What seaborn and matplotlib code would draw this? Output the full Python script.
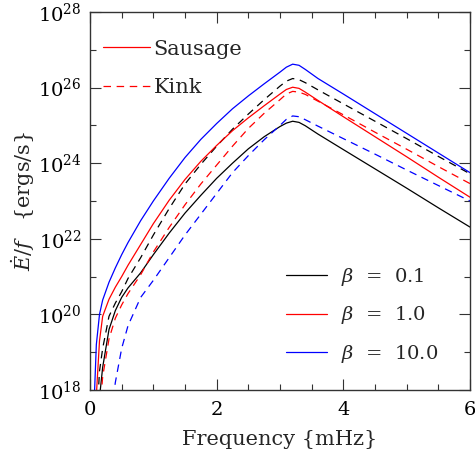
import numpy as np
import pandas as pd
import matplotlib
matplotlib.use("Agg")
import matplotlib.pyplot as plt
from matplotlib.lines import Line2D
from matplotlib.ticker import FixedLocator, NullFormatter
import seaborn as sns

# frequency grid (mHz) and log10 of E-dot/f (ergs/s)
freq = [0.05, 0.1, 0.15, 0.2, 0.3, 0.4, 0.5, 0.6, 0.8, 1.0, 1.25, 1.5, 1.75, 2.0,
        2.25, 2.5, 2.75, 3.0, 3.1, 3.2, 3.3, 3.4, 3.6, 4.0, 4.5, 5.0, 5.5, 6.0]

# sausage modes
saus_b01 = [13.0, 16.4, 17.8, 18.6, 19.6, 20.1, 20.45, 20.7, 21.1, 21.58, 22.15, 22.68, 23.15, 23.6,
            24.0, 24.38, 24.7, 24.97, 25.06, 25.11, 25.08, 24.99, 24.77, 24.36, 23.85, 23.34, 22.82, 22.31]
saus_b1 = [15.5, 17.85, 19.3, 19.95, 20.4, 20.72, 21.0, 21.3, 21.85, 22.4, 23.02, 23.57, 24.05, 24.47,
           24.86, 25.2, 25.52, 25.83, 25.95, 26.01, 25.98, 25.88, 25.66, 25.23, 24.7, 24.17, 23.63, 23.1]
saus_b10 = [17.0, 19.2, 20.0, 20.38, 20.85, 21.23, 21.58, 21.9, 22.48, 23.0, 23.6, 24.15, 24.63, 25.05,
            25.44, 25.78, 26.1, 26.41, 26.54, 26.62, 26.59, 26.48, 26.24, 25.83, 25.31, 24.79, 24.27, 23.75]

# kink modes
kink_b01 = [14.0, 17.0, 18.5, 19.1, 19.95, 20.3, 20.6, 20.95, 21.5, 22.1, 22.8, 23.45, 23.97, 24.45,
            24.9, 25.3, 25.68, 26.04, 26.17, 26.24, 26.21, 26.13, 25.94, 25.57, 25.11, 24.65, 24.18, 23.72]
kink_b1 = [12.0, 15.5, 17.3, 18.35, 19.35, 19.9, 20.25, 20.55, 21.05, 21.65, 22.3, 22.9, 23.45, 23.95,
           24.45, 24.92, 25.32, 25.68, 25.83, 25.9, 25.88, 25.82, 25.64, 25.28, 24.82, 24.37, 23.91, 23.46]
kink_b10 = [8.0, 11.0, 13.0, 14.5, 16.9, 18.2, 19.1, 19.7, 20.45, 20.9, 21.5, 22.1, 22.65, 23.2,
            23.75, 24.2, 24.62, 25.0, 25.16, 25.25, 25.23, 25.15, 24.98, 24.65, 24.24, 23.82, 23.41, 23.0]

betas = ["0.1", "1.0", "10.0"]
beta_colors = {"0.1": "black", "1.0": "#ff0000", "10.0": "#0000ff"}

curves = {
    ("0.1", "Sausage"): saus_b01, ("1.0", "Sausage"): saus_b1, ("10.0", "Sausage"): saus_b10,
    ("0.1", "Kink"): kink_b01, ("1.0", "Kink"): kink_b1, ("10.0", "Kink"): kink_b10,
}

rows = []
for (beta, mode), vals in curves.items():
    for f, v in zip(freq, vals):
        rows.append({"freq": f, "power": 10.0 ** v, "beta": beta, "mode": mode})
df = pd.DataFrame(rows)

sns.set_theme(style="ticks")
plt.rcParams["font.family"] = ["DejaVu Serif"]
plt.rcParams["mathtext.fontset"] = "dejavuserif"

fig = plt.figure(figsize=(4.75, 4.49), dpi=100)
ax = fig.add_axes([90 / 475, 1 - 390 / 449, 380 / 475, 378 / 449])

sns.lineplot(data=df, x="freq", y="power", hue="beta", style="mode",
             hue_order=betas, palette=beta_colors, style_order=["Sausage", "Kink"],
             dashes={"Sausage": "", "Kink": (6, 4.5)}, estimator=None, sort=False,
             legend=False, linewidth=0.9, ax=ax)

ax.set_yscale("log")
ax.set_xlim(0, 6)
ax.set_ylim(1e18, 1e28)
ax.set_xticks([0, 2, 4, 6])
ax.xaxis.set_minor_locator(FixedLocator(np.arange(0, 6.01, 0.5)))
ax.yaxis.set_major_locator(FixedLocator([1e18, 1e20, 1e22, 1e24, 1e26, 1e28]))
ax.yaxis.set_minor_locator(FixedLocator([1e19, 1e21, 1e23, 1e25, 1e27]))
ax.yaxis.set_minor_formatter(NullFormatter())

ax.tick_params(which="both", direction="in", top=True, right=True, width=0.8,
               colors="#333333", labelcolor="black", labelsize=14)
ax.tick_params(which="major", length=8, pad=6)
ax.tick_params(axis="x", which="major", pad=8)
ax.tick_params(which="minor", length=4)
for s in ax.spines.values():
    s.set_linewidth(1.0)
    s.set_color("#333333")

ax.set_xlabel("Frequency {mHz}", fontsize=15, labelpad=8)
ax.set_ylabel(r"$\dot{E}/f$   {ergs/s}", fontsize=15)
ax.yaxis.set_label_coords(-0.14, 0.5)

mode_handles = [Line2D([], [], color="#ff0000", lw=0.9),
                Line2D([], [], color="#ff0000", lw=0.9, dashes=(6, 4.5))]
leg1 = ax.legend(mode_handles, ["Sausage", "Kink"], loc="upper left",
                 bbox_to_anchor=(0.0, 0.96), frameon=False, fontsize=15,
                 handlelength=2.3, handletextpad=0.15, labelspacing=0.95,
                 borderaxespad=0.3, borderpad=0.3)
ax.add_artist(leg1)

beta_handles = [Line2D([], [], color=beta_colors[b], lw=0.9) for b in betas]
ax.legend(beta_handles, [r"$\beta$  =  " + b for b in betas], loc="lower right",
          bbox_to_anchor=(0.963, 0.02), frameon=False, fontsize=14,
          handlelength=2.1, handletextpad=0.75, labelspacing=0.85)

fig.savefig("out.png", dpi=100)
